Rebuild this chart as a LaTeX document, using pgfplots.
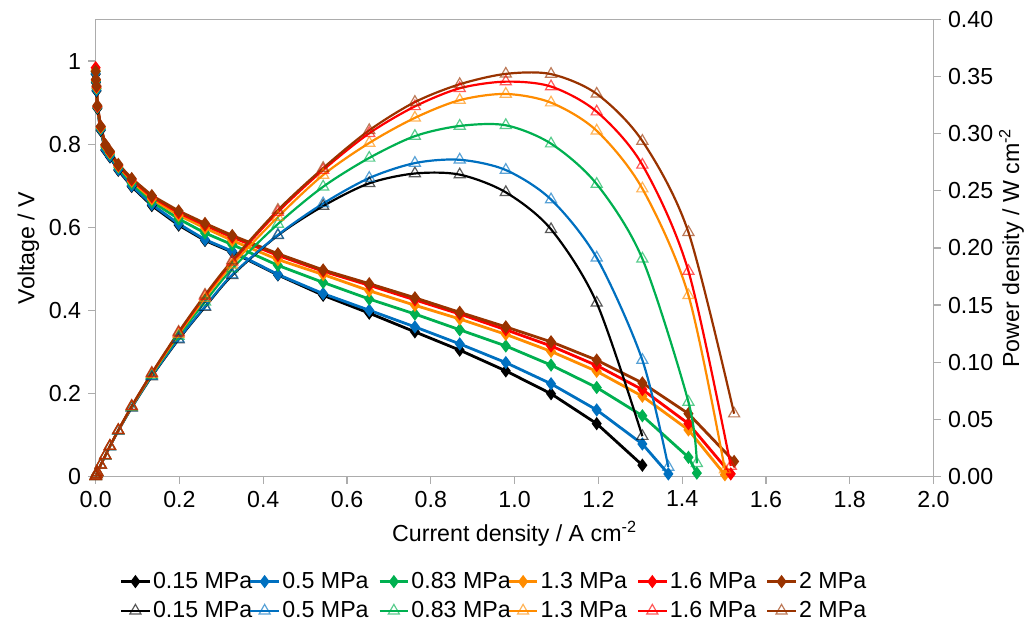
\documentclass[border=0pt]{standalone}
\usepackage{fontspec}
\setmainfont{Liberation Sans}
\usepackage{pgfplots}
\usepackage{pgfplotstable}
\pgfplotsset{compat=1.18}

\definecolor{cBlack}{RGB}{0,0,0}
\definecolor{cBlue}{RGB}{0,112,192}
\definecolor{cGreen}{RGB}{0,176,80}
\definecolor{cOrange}{RGB}{255,140,0}
\definecolor{cRed}{RGB}{255,0,0}
\definecolor{cBrown}{RGB}{153,51,0}

% j / A cm-2, voltage / V, power density / W cm-2
\pgfplotstableread{
j v p
0 0.968 0
0.0005 0.948 0.0005
0.002 0.928 0.0019
0.004 0.886 0.0035
0.012 0.833 0.0100
0.023 0.785 0.0181
0.034 0.769 0.0261
0.054 0.737 0.0398
0.086 0.698 0.0600
0.134 0.652 0.0874
0.198 0.605 0.1198
0.261 0.568 0.1482
0.326 0.540 0.1760
0.435 0.485 0.2110
0.543 0.436 0.2367
0.653 0.393 0.2566
0.762 0.348 0.2652
0.869 0.304 0.2642
0.979 0.254 0.2487
1.087 0.199 0.2163
1.196 0.127 0.1519
1.305 0.027 0.0352
}\tblA
\pgfplotstableread{
j v p
0 0.970 0
0.0005 0.950 0.0005
0.002 0.930 0.0019
0.004 0.888 0.0036
0.012 0.835 0.0100
0.023 0.787 0.0181
0.034 0.771 0.0262
0.054 0.739 0.0399
0.086 0.700 0.0602
0.134 0.655 0.0878
0.198 0.608 0.1204
0.261 0.570 0.1488
0.326 0.542 0.1767
0.435 0.486 0.2114
0.543 0.440 0.2389
0.653 0.400 0.2612
0.762 0.360 0.2743
0.869 0.319 0.2772
0.979 0.274 0.2682
1.087 0.223 0.2424
1.196 0.160 0.1914
1.305 0.078 0.1018
1.367 0.006 0.0082
}\tblB
\pgfplotstableread{
j v p
0 0.975 0
0.0005 0.952 0.0005
0.002 0.934 0.0019
0.004 0.889 0.0036
0.012 0.838 0.0101
0.023 0.793 0.0182
0.034 0.776 0.0264
0.054 0.744 0.0402
0.086 0.706 0.0607
0.134 0.662 0.0887
0.198 0.620 0.1228
0.261 0.586 0.1529
0.326 0.558 0.1819
0.435 0.508 0.2210
0.543 0.467 0.2536
0.653 0.427 0.2788
0.762 0.391 0.2979
0.869 0.353 0.3068
0.979 0.314 0.3074
1.087 0.268 0.2913
1.196 0.214 0.2559
1.305 0.146 0.1905
1.415 0.046 0.0651
1.435 0.008 0.0115
}\tblC
\pgfplotstableread{
j v p
0 0.978 0
0.0005 0.954 0.0005
0.002 0.936 0.0019
0.004 0.890 0.0036
0.012 0.840 0.0101
0.023 0.796 0.0183
0.034 0.779 0.0265
0.054 0.747 0.0403
0.086 0.711 0.0611
0.134 0.668 0.0895
0.198 0.629 0.1245
0.261 0.598 0.1561
0.326 0.568 0.1852
0.435 0.522 0.2271
0.543 0.486 0.2639
0.653 0.447 0.2919
0.762 0.412 0.3139
0.869 0.379 0.3294
0.979 0.342 0.3348
1.087 0.301 0.3272
1.196 0.253 0.3026
1.305 0.193 0.2519
1.415 0.112 0.1585
1.502 0.004 0.0060
}\tblD
\pgfplotstableread{
j v p
0 0.984 0
0.0005 0.955 0.0005
0.002 0.938 0.0019
0.004 0.891 0.0036
0.012 0.842 0.0101
0.023 0.798 0.0184
0.034 0.781 0.0266
0.054 0.749 0.0404
0.086 0.714 0.0614
0.134 0.673 0.0902
0.198 0.635 0.1257
0.261 0.605 0.1579
0.326 0.576 0.1878
0.435 0.532 0.2314
0.543 0.494 0.2682
0.653 0.460 0.3004
0.762 0.425 0.3239
0.869 0.391 0.3398
0.979 0.353 0.3456
1.087 0.314 0.3413
1.196 0.267 0.3193
1.305 0.209 0.2727
1.415 0.127 0.1797
1.516 0.006 0.0091
}\tblE
\pgfplotstableread{
j v p
0 0.975 0
0.0005 0.956 0.0005
0.002 0.940 0.0019
0.004 0.893 0.0036
0.012 0.843 0.0101
0.023 0.799 0.0184
0.034 0.783 0.0266
0.054 0.751 0.0406
0.086 0.717 0.0617
0.134 0.676 0.0906
0.198 0.639 0.1265
0.261 0.609 0.1589
0.326 0.580 0.1891
0.435 0.536 0.2332
0.543 0.497 0.2699
0.653 0.464 0.3030
0.762 0.430 0.3277
0.869 0.395 0.3433
0.979 0.360 0.3524
1.087 0.324 0.3522
1.196 0.280 0.3349
1.305 0.225 0.2936
1.415 0.151 0.2137
1.524 0.036 0.0549
}\tblF

\pgfplotsset{
  vst/.style={line width=1.4pt, mark=diamond*, mark size=2.2pt, mark options={solid}},
  pst/.style={line width=1.1pt, smooth, mark=triangle, mark size=3.2pt,
              mark options={solid, line width=0.6pt, draw opacity=0.65}},
  common/.style={
    scale only axis, width=419pt, height=228.5pt,
    xmin=0, xmax=2,
    tick align=outside,
    axis line style={gray!65},
    major tick style={gray!65, line width=0.6pt},
    major tick length=3.75pt,
    /pgf/number format/assume math mode=true,
  },
}

\begin{document}
\begin{tikzpicture}[font=\fontsize{11.6}{13.5}\selectfont]
\begin{axis}[common,
  ymin=0, ymax=1.1,
  xtick={0,0.2,0.4,0.6,0.8,1.0,1.2,1.4,1.6,1.8,2.0},
  ytick={0,0.2,0.4,0.6,0.8,1},
  xtick pos=bottom, ytick pos=left,
  xticklabel style={/pgf/number format/.cd, fixed, fixed zerofill, precision=1},
  xlabel={Current density / A cm\textsuperscript{-2}},
  ylabel={Voltage / V},
  ylabel shift=-2pt,
]
\addplot[vst, cBlack] table[x=j, y=v] {\tblA};
\addplot[vst, cBlue] table[x=j, y=v] {\tblB};
\addplot[vst, cGreen] table[x=j, y=v] {\tblC};
\addplot[vst, cOrange] table[x=j, y=v] {\tblD};
\addplot[vst, cRed] table[x=j, y=v] {\tblE};
\addplot[vst, cBrown] table[x=j, y=v] {\tblF};
\end{axis}
\begin{axis}[common,
  ymin=0, ymax=0.4,
  axis x line=none, axis y line*=right,
  ytick={0,0.05,0.1,0.15,0.2,0.25,0.3,0.35,0.4},
  yticklabel style={/pgf/number format/.cd, fixed, fixed zerofill, precision=2},
  ylabel={Power density / W cm\textsuperscript{-2}},
  ylabel shift=-4pt,
  legend columns=6,
  legend cell align=left,
  legend image code/.code={\draw[mark repeat=2, mark phase=2, #1] plot coordinates {(0cm,0cm) (0.25cm,0cm) (0.5cm,0cm)};},
  legend style={draw=none, fill=none, at={(0.4915,-0.204)}, anchor=north,
    inner sep=0pt, column sep=0pt, row sep=3pt,
    nodes={inner xsep=1pt, inner ysep=1pt}},
]
\addlegendimage{vst, cBlack}\addlegendentry{\makebox[47pt][l]{0.15 MPa}}
\addlegendimage{vst, cBlue}\addlegendentry{\makebox[47pt][l]{0.5 MPa}}
\addlegendimage{vst, cGreen}\addlegendentry{\makebox[47pt][l]{0.83 MPa}}
\addlegendimage{vst, cOrange}\addlegendentry{\makebox[47pt][l]{1.3 MPa}}
\addlegendimage{vst, cRed}\addlegendentry{\makebox[47pt][l]{1.6 MPa}}
\addlegendimage{vst, cBrown}\addlegendentry{\makebox[47pt][l]{2 MPa}}
\addplot[pst, cBlack] table[x=j, y=p] {\tblA};
\addlegendentry{\makebox[47pt][l]{0.15 MPa}}
\addplot[pst, cBlue] table[x=j, y=p] {\tblB};
\addlegendentry{\makebox[47pt][l]{0.5 MPa}}
\addplot[pst, cGreen] table[x=j, y=p] {\tblC};
\addlegendentry{\makebox[47pt][l]{0.83 MPa}}
\addplot[pst, cOrange] table[x=j, y=p] {\tblD};
\addlegendentry{\makebox[47pt][l]{1.3 MPa}}
\addplot[pst, cRed] table[x=j, y=p] {\tblE};
\addlegendentry{\makebox[47pt][l]{1.6 MPa}}
\addplot[pst, cBrown] table[x=j, y=p] {\tblF};
\addlegendentry{\makebox[47pt][l]{2 MPa}}
\end{axis}
\path ([xshift=-47.85pt, yshift=-77.15pt]current axis.south west)
  rectangle ([xshift=49.75pt, yshift=9.75pt]current axis.north east);
\end{tikzpicture}
\end{document}
